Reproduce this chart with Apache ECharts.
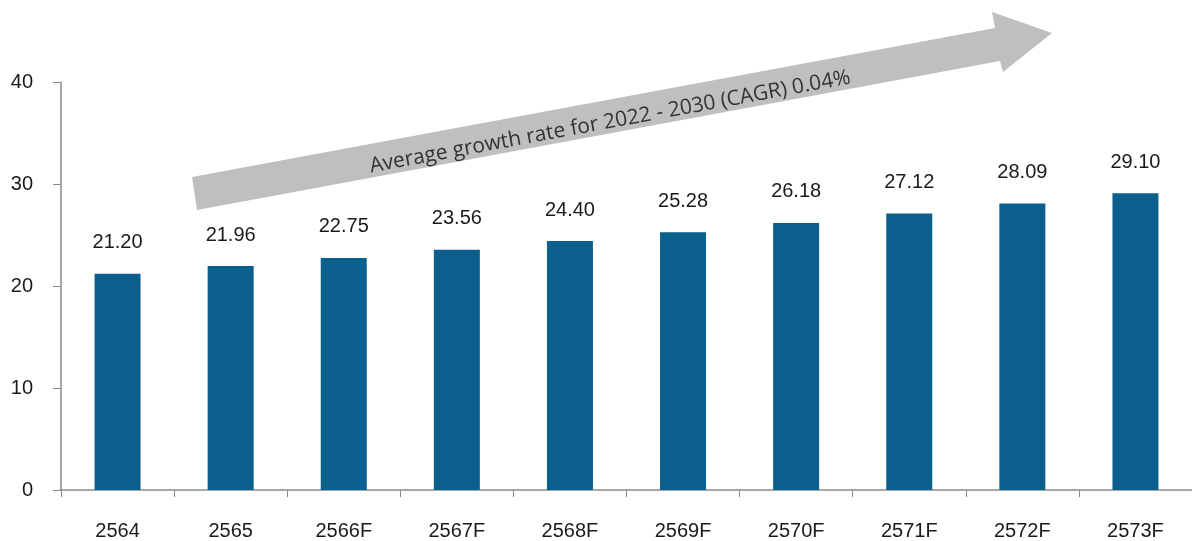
<!DOCTYPE html>
<html>
<head>
<meta charset="utf-8">
<script src="https://cdn.jsdelivr.net/npm/echarts@6/dist/echarts.min.js"></script>
<style>
  html, body { margin: 0; padding: 0; background: #fff; }
  #chart { width: 1192px; height: 541px; }
</style>
</head>
<body>
<div id="chart"></div>
<script>
const categories = ['2564', '2565', '2566F', '2567F', '2568F', '2569F', '2570F', '2571F', '2572F', '2573F']
const values = [21.20, 21.96, 22.75, 23.56, 24.40, 25.28, 26.18, 27.12, 28.09, 29.10]
const yTicks = [0, 10, 20, 30, 40]
const arrowText = 'Average growth rate for 2022 - 2030 (CAGR) 0.04%'

const barColor = '#0b5f8d'
const axisColor = '#8a8a8a'
const labelFont = 'Liberation Sans, Arial, sans-serif'

const chart = echarts.init(document.getElementById('chart'))

// the trend arrow drawn over the plot
const arrowPoints = [
  [192, 177], [995, 28], [992, 12], [1052, 33],
  [1003, 72], [1000, 61], [197, 210]
]

chart.setOption({
  animation: false,
  grid: {
    left: 61,
    right: -8,
    top: 82,
    bottom: 51,
    containLabel: false
  },
  xAxis: {
    type: 'category',
    data: categories,
    axisLine: { lineStyle: { color: axisColor, width: 1.5 } },
    axisTick: { show: true, length: 7, lineStyle: { color: axisColor } },
    axisLabel: {
      color: '#1a1a1a',
      fontSize: 20,
      fontFamily: labelFont,
      margin: 31
    }
  },
  yAxis: {
    type: 'value',
    min: yTicks[0],
    max: yTicks[yTicks.length - 1],
    interval: 10,
    splitLine: { show: false },
    axisLine: { show: true, lineStyle: { color: axisColor, width: 1.5 } },
    axisTick: { show: true, length: 8, lineStyle: { color: axisColor } },
    axisLabel: {
      color: '#1a1a1a',
      fontSize: 20,
      fontFamily: labelFont,
      margin: 28
    }
  },
  series: [{
    type: 'bar',
    data: values,
    barWidth: 46,
    itemStyle: { color: barColor },
    label: {
      show: true,
      position: 'top',
      distance: 21,
      color: '#1a1a1a',
      fontSize: 20,
      fontFamily: labelFont,
      formatter: p => p.value.toFixed(2)
    }
  }],
  graphic: [
    {
      type: 'polygon',
      shape: { points: arrowPoints },
      style: { fill: '#bfbfbf' },
      z: 10
    },
    {
      type: 'text',
      x: 610,
      y: 122,
      rotation: Math.atan(0.1856),
      style: {
        text: arrowText,
        fill: '#333',
        font: '21px "Open Sans", "Noto Sans", sans-serif',
        textAlign: 'center',
        textVerticalAlign: 'middle'
      },
      z: 11
    }
  ]
})
</script>
</body>
</html>
